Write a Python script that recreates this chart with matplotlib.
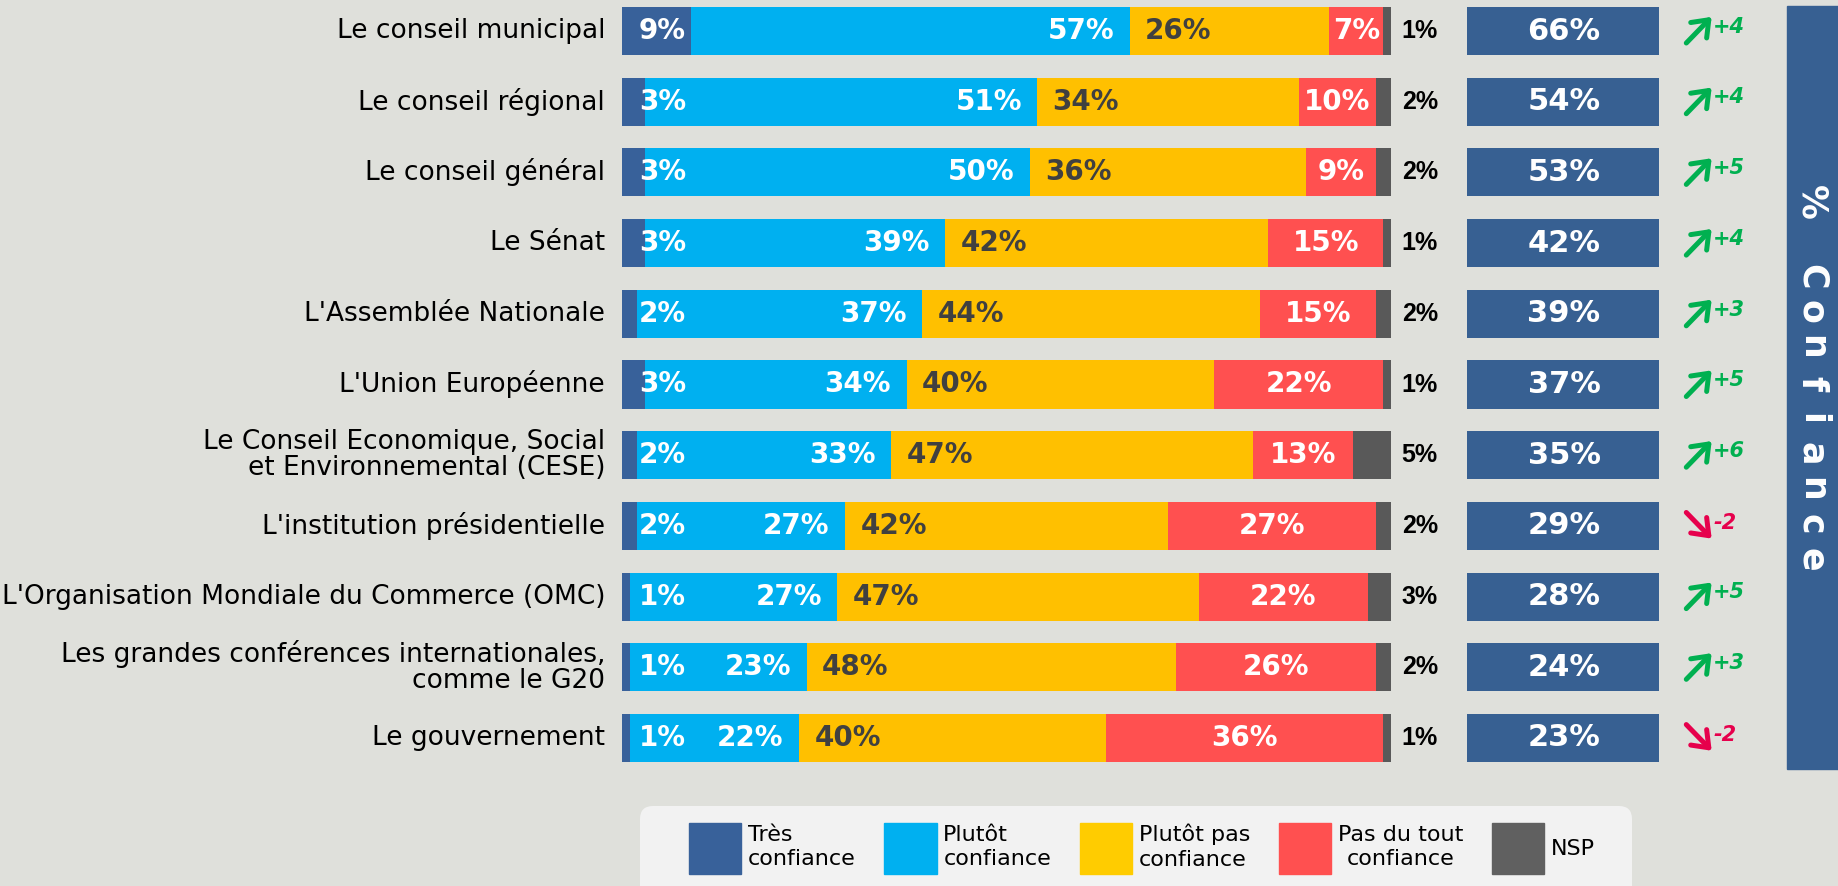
import numpy as np
import matplotlib.pyplot as plt
from matplotlib.patches import Patch, Rectangle, FancyBboxPatch

# données
categories = ["Le conseil municipal", "Le conseil régional", "Le conseil général",
              "Le Sénat", "L'Assemblée Nationale", "L'Union Européenne",
              "Le Conseil Economique, Social\net Environnemental (CESE)",
              "L'institution présidentielle",
              "L'Organisation Mondiale du Commerce (OMC)",
              "Les grandes conférences internationales,\ncomme le G20",
              "Le gouvernement"]
tres = np.array([9, 3, 3, 3, 2, 3, 2, 2, 1, 1, 1])
plutot = np.array([57, 51, 50, 39, 37, 34, 33, 27, 27, 23, 22])
plutot_pas = np.array([26, 34, 36, 42, 44, 40, 47, 42, 47, 48, 40])
pas_du_tout = np.array([7, 10, 9, 15, 15, 22, 13, 27, 22, 26, 36])
nsp = np.array([1, 2, 2, 1, 2, 1, 5, 2, 3, 2, 1])
confiance = [66, 54, 53, 42, 39, 37, 35, 29, 28, 24, 23]
evolution = [4, 4, 5, 4, 3, 5, 6, -2, 5, 3, -2]
legend_labels = ["Très\nconfiance", "Plutôt\nconfiance", "Plutôt pas\nconfiance",
                 "Pas du tout\nconfiance", "NSP"]

bg = "#dfe0db"
c_tres, c_plutot, c_pas, c_pdt, c_nsp = "#38619a", "#00b0f0", "#ffc000", "#ff5050", "#595959"
c_box = "#376092"
plt.rcParams["font.family"] = ["DejaVu Sans"]

fig = plt.figure(figsize=(18.38, 8.86), dpi=100)
fig.patch.set_facecolor(bg)
# 1 unité en x = 1 % de barre (7.69 px), 1 unité en y = une ligne
ax = fig.add_axes([622 / 1838, 0, 1 - 622 / 1838, 1])
ax.set_xlim(0, (1838 - 622) / 7.69)
ax.set_ylim((886 - 31) / 70.7, -31 / 70.7)
ax.axis("off")

y = np.arange(len(categories))
h = 0.68
left = np.zeros(len(y))
for vals, col in zip([tres, plutot, plutot_pas, pas_du_tout, nsp],
                     [c_tres, c_plutot, c_pas, c_pdt, c_nsp]):
    ax.barh(y, vals, left=left, height=h, color=col)
    left = left + vals

for i in y:
    ax.text(-2.2, i, categories[i], ha="right", va="center", fontsize=19,
            linespacing=1.0, color="black", clip_on=False)
    kw = dict(va="center", fontsize=20, fontweight="bold")
    ax.text(2.2, i, f"{tres[i]}%", ha="left", color="white", **kw)
    e1 = tres[i] + plutot[i]
    ax.text(e1 - 2.0, i, f"{plutot[i]}%", ha="right", color="white", **kw)
    ax.text(e1 + 2.0, i, f"{plutot_pas[i]}%", ha="left", color="#404040", **kw)
    e2 = e1 + plutot_pas[i]
    ax.text(e2 + pas_du_tout[i] / 2, i, f"{pas_du_tout[i]}%", ha="center", color="white", **kw)
    ax.text(101.4, i, f"{nsp[i]}%", ha="left", va="center", fontsize=18,
            fontweight="bold", family=["Liberation Sans", "DejaVu Sans"], color="black")

# % confiance
ax.barh(y, [25] * len(y), left=109.9, height=h, color=c_box)
for i in y:
    ax.text(122.5, i, f"{confiance[i]}%", ha="center", va="center", fontsize=22,
            fontweight="bold", color="white")
    d = evolution[i]
    if d > 0:
        col, tail, tip, dy = "#00b050", i + 0.17, i - 0.2, -0.06
    else:
        col, tail, tip, dy = "#e6004c", i - 0.19, i + 0.18, -0.04
    ax.annotate("", xy=(141.7, tip), xytext=(138.4, tail),
                arrowprops=dict(arrowstyle="->,head_length=0.55,head_width=0.42",
                                lw=3.6, color=col, mutation_scale=19,
                                shrinkA=0, shrinkB=0))
    ax.text(141.9, i + dy, f"{d:+d}", ha="left", va="center", fontsize=15,
            fontweight="bold", fontstyle="italic", color=col)

# bandeau vertical
y0 = (6 - 31) / 70.7
y1 = (769 - 31) / 70.7
ax.add_patch(Rectangle((151.5, y0), 158.1 - 151.5, y1 - y0, color=c_box, clip_on=False))
ax.text(154.7, (202 - 31) / 70.7, "%", rotation=-90, ha="center", va="center",
        fontsize=25, fontweight="bold", color="white")
for k, ch in enumerate("Confiance"):
    ax.text(154.7, (277 - 31 + 35.4 * k) / 70.7, ch, rotation=-90, ha="center",
            va="center", fontsize=25, fontweight="bold", color="white")

# légende
fig.add_artist(FancyBboxPatch((6.40, -0.15), 9.92, 0.95,
                              boxstyle="round,pad=0,rounding_size=0.13",
                              transform=fig.dpi_scale_trans, facecolor="#f2f2f2",
                              edgecolor="none"))
handles = [Patch(color=c) for c in [c_tres, c_plutot, "#ffcc00", c_pdt, "#606060"]]
leg = fig.legend(handles, legend_labels, loc="upper center",
                 bbox_to_anchor=(1142 / 1838, 1 - 795 / 886), ncol=5, fontsize=16,
                 handlelength=2.35, handleheight=3.2, handletextpad=0.3,
                 columnspacing=1.3, borderpad=0.75, frameon=False)
for t in leg.get_texts():
    t.set_linespacing(1.3)
leg.get_texts()[3].set_multialignment("center")

fig.savefig("out.png", dpi=100, facecolor=bg)
